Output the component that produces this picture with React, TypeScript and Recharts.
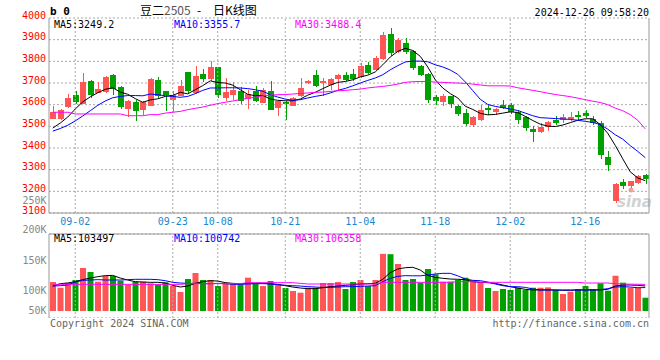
import { ComposedChart, Bar, Line, XAxis, YAxis, CartesianGrid, ReferenceLine, Cell } from 'recharts'

const DATES = [
  '08-28', '08-29', '08-30',
  '09-02', '09-03', '09-04', '09-05', '09-06', '09-09', '09-10', '09-11', '09-12', '09-13',
  '09-18', '09-19', '09-20', '09-23', '09-24', '09-25', '09-26', '09-27', '09-30',
  '10-08', '10-09', '10-10', '10-11', '10-14', '10-15', '10-16', '10-17', '10-18',
  '10-21', '10-22', '10-23', '10-24', '10-25', '10-28', '10-29', '10-30', '10-31',
  '11-01', '11-04', '11-05', '11-06', '11-07', '11-08', '11-11', '11-12', '11-13', '11-14', '11-15',
  '11-18', '11-19', '11-20', '11-21', '11-22', '11-25', '11-26', '11-27', '11-28', '11-29',
  '12-02', '12-03', '12-04', '12-05', '12-06', '12-09', '12-10', '12-11', '12-12', '12-13',
  '12-16', '12-17', '12-18', '12-19', '12-20', '12-23', '12-24', '12-25', '12-26'
]

const TICK_DATES = ['09-02', '09-23', '10-08', '10-21', '11-04', '11-18', '12-02', '12-16']

const OPEN = [
  3535, 3535, 3588, 3646, 3605, 3711, 3654, 3658, 3735, 3681,
  3581, 3612, 3574, 3597, 3715, 3661, 3620, 3641, 3749, 3654,
  3743, 3715, 3772, 3628, 3646, 3661, 3626, 3661, 3611, 3664,
  3584, 3611, 3595, 3638, 3700, 3735, 3697, 3692, 3715, 3738,
  3743, 3726, 3784, 3761, 3811, 3927, 3843, 3884, 3846, 3780,
  3743, 3635, 3615, 3638, 3595, 3561, 3508, 3528, 3584, 3566,
  3600, 3600, 3566, 3541, 3489, 3472, 3500, 3530, 3526, 3530,
  3552, 3561, 3534, 3515, 3358, 3158, 3243, 3223, 3241, 3277
]
const HIGH = [
  3595, 3579, 3651, 3661, 3745, 3713, 3705, 3731, 3741, 3688,
  3623, 3623, 3615, 3724, 3726, 3664, 3661, 3715, 3752, 3777,
  3765, 3803, 3776, 3723, 3703, 3680, 3669, 3688, 3677, 3707,
  3621, 3616, 3635, 3723, 3715, 3761, 3723, 3723, 3741, 3749,
  3764, 3792, 3795, 3823, 3935, 3954, 3907, 3907, 3854, 3783,
  3746, 3646, 3651, 3641, 3598, 3580, 3547, 3600, 3600, 3584,
  3623, 3610, 3577, 3549, 3500, 3515, 3526, 3549, 3557, 3566,
  3570, 3577, 3546, 3523, 3384, 3238, 3257, 3249, 3277, 3281
]
const LOW = [
  3532, 3531, 3585, 3605, 3602, 3631, 3652, 3655, 3643, 3580,
  3543, 3523, 3554, 3594, 3631, 3572, 3565, 3638, 3651, 3650,
  3703, 3708, 3631, 3615, 3623, 3605, 3581, 3611, 3608, 3574,
  3549, 3531, 3592, 3635, 3697, 3681, 3638, 3669, 3669, 3707,
  3707, 3723, 3743, 3758, 3808, 3823, 3840, 3835, 3758, 3731,
  3607, 3600, 3595, 3584, 3549, 3503, 3497, 3525, 3554, 3554,
  3580, 3557, 3510, 3477, 3430, 3469, 3477, 3507, 3515, 3523,
  3530, 3540, 3508, 3351, 3295, 3146, 3212, 3215, 3235, 3235
]
const CLOSE = [
  3566, 3577, 3631, 3615, 3705, 3646, 3674, 3726, 3669, 3589,
  3618, 3569, 3612, 3720, 3643, 3641, 3643, 3685, 3661, 3731,
  3720, 3772, 3643, 3657, 3669, 3615, 3649, 3615, 3669, 3577,
  3618, 3600, 3631, 3677, 3711, 3684, 3707, 3718, 3735, 3715,
  3718, 3777, 3746, 3815, 3923, 3838, 3900, 3843, 3766, 3738,
  3623, 3618, 3641, 3603, 3558, 3508, 3544, 3574, 3574, 3581,
  3587, 3569, 3530, 3490, 3477, 3495, 3521, 3518, 3541, 3541,
  3541, 3546, 3516, 3369, 3323, 3235, 3223, 3246, 3272, 3257
]

const MA5 = [
  3492, 3515, 3543, 3580, 3613, 3636, 3655, 3671, 3678, 3658,
  3648, 3628, 3611, 3622, 3627, 3638, 3643, 3657, 3650, 3669,
  3688, 3710, 3702, 3700, 3690, 3669, 3648, 3641, 3643, 3626,
  3620, 3618, 3618, 3626, 3644, 3657, 3674, 3690, 3703, 3707,
  3715, 3728, 3736, 3751, 3784, 3820, 3846, 3860, 3850, 3823,
  3774, 3715, 3677, 3651, 3631, 3593, 3578, 3560, 3553, 3555,
  3561, 3567, 3564, 3546, 3527, 3510, 3501, 3499, 3506, 3517,
  3528, 3535, 3535, 3508, 3468, 3412, 3350, 3290, 3262, 3249.2
]
const MA10 = [
  3478, 3490, 3505, 3525, 3548, 3572, 3597, 3617, 3632, 3638,
  3642, 3642, 3641, 3649, 3646, 3641, 3638, 3634, 3638, 3651,
  3666, 3677, 3677, 3678, 3678, 3677, 3674, 3669, 3662, 3646,
  3635, 3626, 3620, 3623, 3631, 3638, 3644, 3654, 3666, 3675,
  3687, 3700, 3712, 3723, 3738, 3761, 3780, 3797, 3801, 3801,
  3798, 3784, 3774, 3760, 3740, 3705, 3665, 3625, 3601, 3592,
  3586, 3580, 3573, 3561, 3549, 3540, 3538, 3536, 3534, 3532,
  3528, 3523, 3518, 3508, 3487, 3461, 3441, 3411, 3384, 3355.7
]
const MA30 = [
  3565, 3565, 3565, 3557, 3557, 3557, 3557, 3557, 3557, 3557,
  3549, 3549, 3549, 3554, 3554, 3561, 3565, 3569, 3577, 3583,
  3589, 3597, 3605, 3611, 3617, 3623, 3629, 3635, 3641, 3644,
  3646, 3647, 3649, 3652, 3654, 3657, 3658, 3661, 3664, 3666,
  3669, 3672, 3677, 3681, 3684, 3689, 3695, 3703, 3706, 3707,
  3707, 3704, 3703, 3701, 3700, 3698, 3695, 3691, 3687, 3687,
  3687, 3686, 3678, 3672, 3666, 3660, 3653, 3647, 3642, 3637,
  3630, 3623, 3616, 3610, 3600, 3584, 3572, 3554, 3528, 3488.4
]

const VOLUME = [
  110300, 100500, 109000, 113800, 134500, 127600, 110900, 120700, 120700, 112600,
  106300, 110900, 110900, 108000, 106300, 109800, 103400, 93100, 115500, 125900,
  113800, 113800, 103400, 109100, 106900, 106300, 117800, 106900, 103400, 112000,
  106300, 100000, 94800, 91900, 100500, 100500, 108600, 108600, 110300, 98300,
  110300, 113800, 103400, 113800, 158900, 158300, 141400, 113800, 115500, 109200,
  132800, 123600, 110900, 110900, 113800, 117800, 113800, 110300, 100000, 94800,
  98300, 96600, 100500, 96600, 100500, 100500, 101100, 96600, 89700, 93600,
  98300, 103400, 98300, 108100, 95400, 121200, 109200, 100500, 100500, 83300
]
const VOL_MA5 = [
  103400, 107500, 108600, 110900, 114400, 117200, 119500, 121300, 121800, 117200,
  113800, 110900, 110300, 109800, 109800, 108600, 104600, 101700, 103400, 108000,
  110900, 112600, 112000, 109200, 108000, 107500, 108000, 108000, 108000, 107500,
  106300, 104000, 101700, 100000, 98900, 98900, 100500, 102300, 103400, 104600,
  105700, 106900, 107500, 108000, 115000, 126400, 132800, 135000, 135700, 131000,
  121800, 118400, 116700, 115500, 115000, 114400, 110900, 109800, 109200, 108000,
  105200, 102300, 100000, 97700, 96600, 96600, 96600, 96600, 96000, 96000,
  96600, 96600, 96600, 96600, 97700, 103400, 105200, 105200, 104600, 103497
]
const VOL_MA10 = [
  103400, 104000, 105200, 110300, 113200, 113800, 114400, 113800, 113800, 113800,
  114400, 115000, 115000, 115000, 114400, 112600, 109800, 108600, 108000, 108000,
  107500, 107500, 108000, 107500, 106300, 106300, 106900, 107500, 107500, 106900,
  105700, 104600, 104000, 103400, 102300, 101700, 101100, 101100, 101700, 102300,
  102300, 102900, 103400, 104000, 110900, 116700, 120100, 121300, 121000, 121000,
  122400, 124100, 125300, 125300, 121000, 115500, 113200, 112600, 110300, 106900,
  104000, 102300, 102300, 101100, 98300, 96600, 96600, 96600, 96600, 96600,
  96600, 96600, 96600, 97200, 98900, 101700, 102300, 101700, 100500, 100742
]
const VOL_MA30 = [
  106300, 106300, 106300, 106300, 106300, 106300, 106300, 106300, 106300, 106300,
  106300, 106300, 106300, 106300, 106300, 106300, 106300, 106300, 107500, 107500,
  107500, 107500, 107500, 107500, 107500, 107500, 109200, 109200, 109200, 109200,
  109200, 109200, 109200, 108000, 106900, 106900, 106900, 106900, 106900, 106900,
  106900, 106900, 106900, 106900, 109800, 109800, 109800, 109800, 109800, 109800,
  109800, 109800, 109800, 109800, 111000, 111000, 111000, 109800, 109800, 109800,
  109800, 109800, 109800, 109800, 109800, 109800, 109800, 109800, 109800, 109800,
  109800, 108600, 108600, 108600, 108600, 107500, 107000, 106600, 106400, 106358
]

const PRICE_TICKS = [3100, 3200, 3300, 3400, 3500, 3600, 3700, 3800, 3900, 4000]
const VOL_DOMAIN = [48300, 193100]
const VOL_BASE = 60300
const VOL_GRID = [87900, 122400, 155700]
const VOL_LABELS = ['250K', '200K', '150K', '100K', '50K']
const VOL_LABEL_Y = [203.5, 232.5, 263.5, 293.5, 313.5]

const RED = '#ff5555'
const GREEN = '#00a000'
const GRID = '#aaaaaa'
const AXIS = '#999999'
const MONO = '"DejaVu Sans Mono", "Liberation Mono", monospace'
const CJK = '"Noto Sans CJK SC", sans-serif'

const data = DATES.map((date, i) => ({
  date,
  open: OPEN[i],
  high: HIGH[i],
  low: LOW[i],
  close: CLOSE[i],
  ma5: MA5[i],
  ma10: MA10[i],
  ma30: MA30[i],
  vol: VOLUME[i],
  vma5: VOL_MA5[i],
  vma10: VOL_MA10[i],
  vma30: VOL_MA30[i]
}))

const last = DATES.length - 1

const Candle = (props: any) => {
  const { x, y, width, height, payload } = props
  if (x == null || y == null || !payload) return null
  const top = Math.min(y, y + height)
  const h = Math.abs(height)
  const { open, close, high, low } = payload
  const k = high > low ? h / (high - low) : 0
  const yo = top + (high - open) * k
  const yc = top + (high - close) * k
  const color = close >= open ? RED : GREEN
  const bx = Math.round(x)
  const cx = bx + Math.floor(width / 2) + 0.5
  const bodyTop = Math.round(Math.min(yo, yc))
  const bodyH = Math.max(1, Math.round(Math.abs(yo - yc)))
  return (
    <g shapeRendering="crispEdges">
      <line x1={cx} x2={cx} y1={Math.round(top)} y2={Math.round(top + h)} stroke={color} />
      <rect x={bx} y={bodyTop} width={width} height={bodyH} fill={color} />
    </g>
  )
}

const DateTick = ({ x, y, payload }: any) => (
  <text x={x} y={y + 12} textAnchor="middle" fill="#1a88d0" fontSize={10} fontFamily={MONO}>
    {payload.value}
  </text>
)

const PriceTick = ({ x, y, payload }: any) => (
  <text x={x} y={y + 0.5} textAnchor="end" fill="#ff0000" fontSize={10} fontFamily={MONO}>
    {payload.value}
  </text>
)

const legendX = [54, 174, 295]

export default function App() {
  return (
    <div style={{ position: 'absolute', left: 0, top: 0, width: 660, height: 360, background: '#fff', overflow: 'hidden' }}>
      {/* sina watermark, under the candles */}
      <svg width={660} height={360} style={{ position: 'absolute', left: 0, top: 0 }}>
        <circle cx={631} cy={190} r={2.5} fill="#f2a0a0" />
        <text x={617} y={207} fontSize={15} fontWeight="bold" fontStyle="italic" fontFamily='"DejaVu Sans", sans-serif' fill="#d2d2d2">
          sina
        </text>
      </svg>

      <div style={{ position: 'absolute', left: 0, top: 0 }}>
        <ComposedChart width={660} height={235} data={data} margin={{ top: 18, right: 11, bottom: 0, left: 0 }}>
          <CartesianGrid vertical={false} stroke={GRID} strokeDasharray="2 2" />
          {TICK_DATES.map(d => (
            <ReferenceLine key={d} x={d} stroke={GRID} strokeDasharray="2 2" />
          ))}
          <ReferenceLine x={DATES[last]} position="end" stroke={AXIS} />
          <XAxis
            dataKey="date"
            ticks={TICK_DATES}
            interval={0}
            height={22}
            tickSize={0}
            tickMargin={0}
            tickLine={false}
            axisLine={{ stroke: AXIS }}
            tick={<DateTick />}
          />
          <YAxis
            domain={[3100, 4000]}
            ticks={PRICE_TICKS}
            interval={0}
            width={49}
            tickSize={0}
            tickMargin={3}
            tickLine={false}
            axisLine={{ stroke: AXIS }}
            allowDataOverflow
            tick={<PriceTick />}
          />
          <Bar dataKey={(d: any) => [d.low, d.high]} barSize={6} shape={(p: any) => <Candle {...p} />} isAnimationActive={false} />
          <Line type="linear" dataKey="ma5" stroke="#000000" strokeWidth={1} dot={false} activeDot={false} isAnimationActive={false} />
          <Line type="linear" dataKey="ma10" stroke="#0000ff" strokeWidth={1} dot={false} activeDot={false} isAnimationActive={false} />
          <Line type="linear" dataKey="ma30" stroke="#ff00ff" strokeWidth={1} dot={false} activeDot={false} isAnimationActive={false} />
        </ComposedChart>
      </div>

      <div style={{ position: 'absolute', left: 0, top: 225 }}>
        <ComposedChart width={660} height={93} data={data} margin={{ top: 9, right: 11, bottom: 0, left: 0 }}>
          <CartesianGrid vertical={false} stroke={GRID} strokeDasharray="2 2" />
          {TICK_DATES.map(d => (
            <ReferenceLine key={d} x={d} stroke={GRID} strokeDasharray="2 2" />
          ))}
          <ReferenceLine y={VOL_DOMAIN[1]} stroke={AXIS} />
          <ReferenceLine x={DATES[last]} position="end" stroke={AXIS} />
          <XAxis dataKey="date" height={0} tick={false} tickLine={false} axisLine={{ stroke: AXIS }} />
          <YAxis
            domain={VOL_DOMAIN}
            ticks={VOL_GRID}
            width={49}
            tick={false}
            tickLine={false}
            axisLine={{ stroke: AXIS }}
            allowDataOverflow
          />
          <Bar dataKey={(d: any) => [VOL_BASE, d.vol]} barSize={6} isAnimationActive={false}>
            {data.map((d, i) => (
              <Cell key={i} fill={d.close >= d.open ? RED : GREEN} />
            ))}
          </Bar>
          <Line type="linear" dataKey="vma5" stroke="#000000" strokeWidth={1} dot={false} activeDot={false} isAnimationActive={false} />
          <Line type="linear" dataKey="vma10" stroke="#0000ff" strokeWidth={1} dot={false} activeDot={false} isAnimationActive={false} />
          <Line type="linear" dataKey="vma30" stroke="#ff00ff" strokeWidth={1} dot={false} activeDot={false} isAnimationActive={false} />
        </ComposedChart>
      </div>

      <svg width={660} height={360} style={{ position: 'absolute', left: 0, top: 0, pointerEvents: 'none' }}>
        <text x={50} y={15} fontSize={11} fontWeight="bold" fontFamily={MONO} fill="#000">b 0</text>
        <text x={140} y={15} fontSize={12} fontFamily={CJK} fill="#000">
          豆二<tspan fill="#555">2505</tspan>
        </text>
        <text x={197} y={15} fontSize={12} fontFamily={CJK} fill="#000">-</text>
        <text x={213} y={15} fontSize={12} fontFamily={CJK} fill="#000">日K线图</text>
        <text x={649} y={16} textAnchor="end" fontSize={10} fontFamily={MONO} fill="#000">2024-12-26 09:58:20</text>

        <text x={legendX[0]} y={27.5} fontSize={10} fontFamily={MONO} fill="#000">{`MA5:${MA5[last]}`}</text>
        <text x={legendX[1]} y={27.5} fontSize={10} fontFamily={MONO} fill="#0000ff">{`MA10:${MA10[last]}`}</text>
        <text x={legendX[2]} y={27.5} fontSize={10} fontFamily={MONO} fill="#ff00ff">{`MA30:${MA30[last]}`}</text>

        <text x={legendX[0]} y={241.7} fontSize={10} fontFamily={MONO} fill="#000">{`MA5:${VOL_MA5[last]}`}</text>
        <text x={legendX[1]} y={241.7} fontSize={10} fontFamily={MONO} fill="#0000ff">{`MA10:${VOL_MA10[last]}`}</text>
        <text x={legendX[2]} y={241.7} fontSize={10} fontFamily={MONO} fill="#ff00ff">{`MA30:${VOL_MA30[last]}`}</text>

        {VOL_LABELS.map((t, i) => (
          <text key={t} x={46.5} y={VOL_LABEL_Y[i]} textAnchor="end" fontSize={10} fontFamily={MONO} fill="#888">{t}</text>
        ))}

        <text x={50} y={327} fontSize={10} fontFamily={MONO} fill="#666">Copyright 2024 SINA.COM</text>
        <text x={649} y={327} textAnchor="end" fontSize={10} fontFamily={MONO} fill="#666">http://finance.sina.com.cn</text>
      </svg>
    </div>
  )
}
